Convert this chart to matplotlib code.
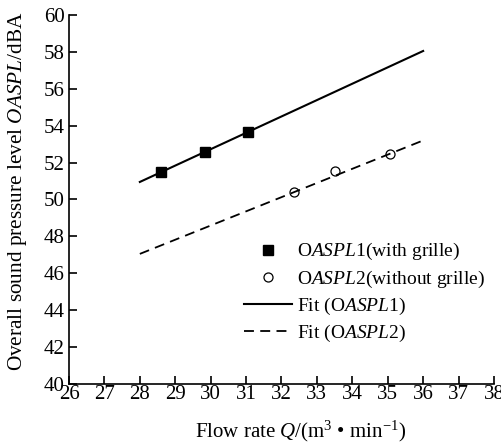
import numpy as np
import matplotlib
matplotlib.use("Agg")
import matplotlib.pyplot as plt

plt.rcParams["font.family"] = ["Liberation Serif", "DejaVu Serif"]
plt.rcParams["mathtext.fontset"] = "custom"
plt.rcParams["mathtext.rm"] = "Liberation Serif"
plt.rcParams["mathtext.it"] = "Liberation Serif:italic"
plt.rcParams["mathtext.bf"] = "Liberation Serif:bold"

# Measured overall sound pressure levels
q_grille = [28.6, 29.85, 31.05]
oaspl_grille = [51.5, 52.6, 53.65]
q_open = [32.35, 33.5, 35.05]
oaspl_open = [50.4, 51.55, 52.45]

# Linear fits, evaluated at the ends of the fitted range
fit_q = [28, 36]
fit_grille = [50.95, 58.05]
fit_open = [47.05, 53.2]

x_ticks = list(range(26, 39))
y_ticks = list(range(40, 61, 2))

fig = plt.figure(figsize=(5.02, 4.48), dpi=100)
ax = fig.add_axes([0.1375, 0.143, 0.8465, 0.8235])

ax.plot(q_grille, oaspl_grille, linestyle="none", marker="s", ms=6.5,
        mfc="black", mec="black", label="O$ASPL$1(with grille)")
ax.plot(q_open, oaspl_open, linestyle="none", marker="o", ms=6.5,
        mfc="white", mec="black", mew=0.9, label="O$ASPL$2(without grille)")
ax.plot(fit_q, fit_grille, color="black", lw=1.5, label="Fit (O$ASPL$1)")
ax.plot(fit_q, fit_open, color="black", lw=1.3, dashes=(5.5, 3.5),
        label="Fit (O$ASPL$2)")

ax.set_xlim(26, 38)
ax.set_ylim(40, 60)
ax.set_xticks(x_ticks)
ax.set_yticks(y_ticks)
ax.tick_params(direction="in", length=6, width=1.2, labelsize=15)
ax.tick_params(axis="x", pad=1)
ax.tick_params(axis="y", pad=3)
for side in ("top", "right"):
    ax.spines[side].set_visible(False)
for side in ("left", "bottom"):
    ax.spines[side].set_linewidth(1.2)

ax.set_xlabel("Flow rate $Q$/(m$^3$ • min$^{-1}$)", fontsize=15)
ax.set_ylabel("Overall sound pressure level $OASPL$/dBA", fontsize=15.3)
ax.xaxis.set_label_coords(0.545, -0.095)
ax.yaxis.set_label_coords(-0.095, 0.523)

ax.legend(loc="upper left", bbox_to_anchor=(0.39, 0.413), frameon=False,
          fontsize=14, handlelength=2.45, handletextpad=0.25,
          labelspacing=0.31, borderpad=0)

fig.savefig("out.png", dpi=100, facecolor="white")
